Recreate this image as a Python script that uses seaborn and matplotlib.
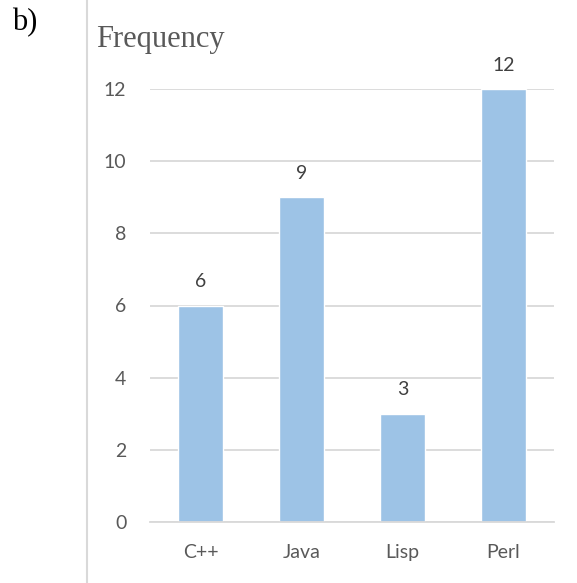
import matplotlib
matplotlib.use("Agg")
import matplotlib.pyplot as plt
import seaborn as sns
import pandas as pd
from matplotlib.lines import Line2D

languages = ["C++", "Java", "Lisp", "Perl"]
frequency = [6, 9, 3, 12]
yticks = [0, 2, 4, 6, 8, 10, 12]

df = pd.DataFrame({"lang": languages, "freq": frequency})

sns.set_style("white")
plt.rcParams['font.family'] = ['Lato', 'DejaVu Sans']

fig = plt.figure(figsize=(5.77, 5.83), dpi=100)
ax = fig.add_axes([150/577, 1-522/583, 404/577, (522-89)/583])

sns.barplot(data=df, x="lang", y="freq", color="#9DC3E6", width=0.45,
            saturation=1, ax=ax, zorder=3)

ax.set_ylim(0, 12)
ax.set_yticks(yticks)
ax.yaxis.grid(True, color="#D9D9D9", linewidth=1.3, zorder=0)
ax.set_axisbelow(True)
for s in ["top", "right", "left"]:
    ax.spines[s].set_visible(False)
ax.spines["bottom"].set_color("#D9D9D9")
ax.spines["bottom"].set_linewidth(1.3)
ax.spines["bottom"].set_zorder(4)
ax.tick_params(axis="both", length=0, labelsize=14, colors="#595959")
ax.tick_params(axis="y", pad=17)
ax.tick_params(axis="x", pad=16)
ax.set_xlabel("")
ax.set_ylabel("")

for c in ax.containers:
    ax.bar_label(c, labels=[str(v) for v in frequency], padding=11,
                 fontsize=14, color="#404040")

fig.text(96/577, 1-47/583, "Frequency", family="Liberation Serif",
         fontsize=22, color="#595959", va="baseline")
fig.text(12/577, 1-30/583, "b)", family="Liberation Serif",
         fontsize=22, color="black", va="baseline")
fig.add_artist(Line2D([87/577, 87/577], [0, 1], color="#D9D9D9",
                      linewidth=1.5, transform=fig.transFigure))

fig.savefig("out.png", dpi=100, facecolor="white")
